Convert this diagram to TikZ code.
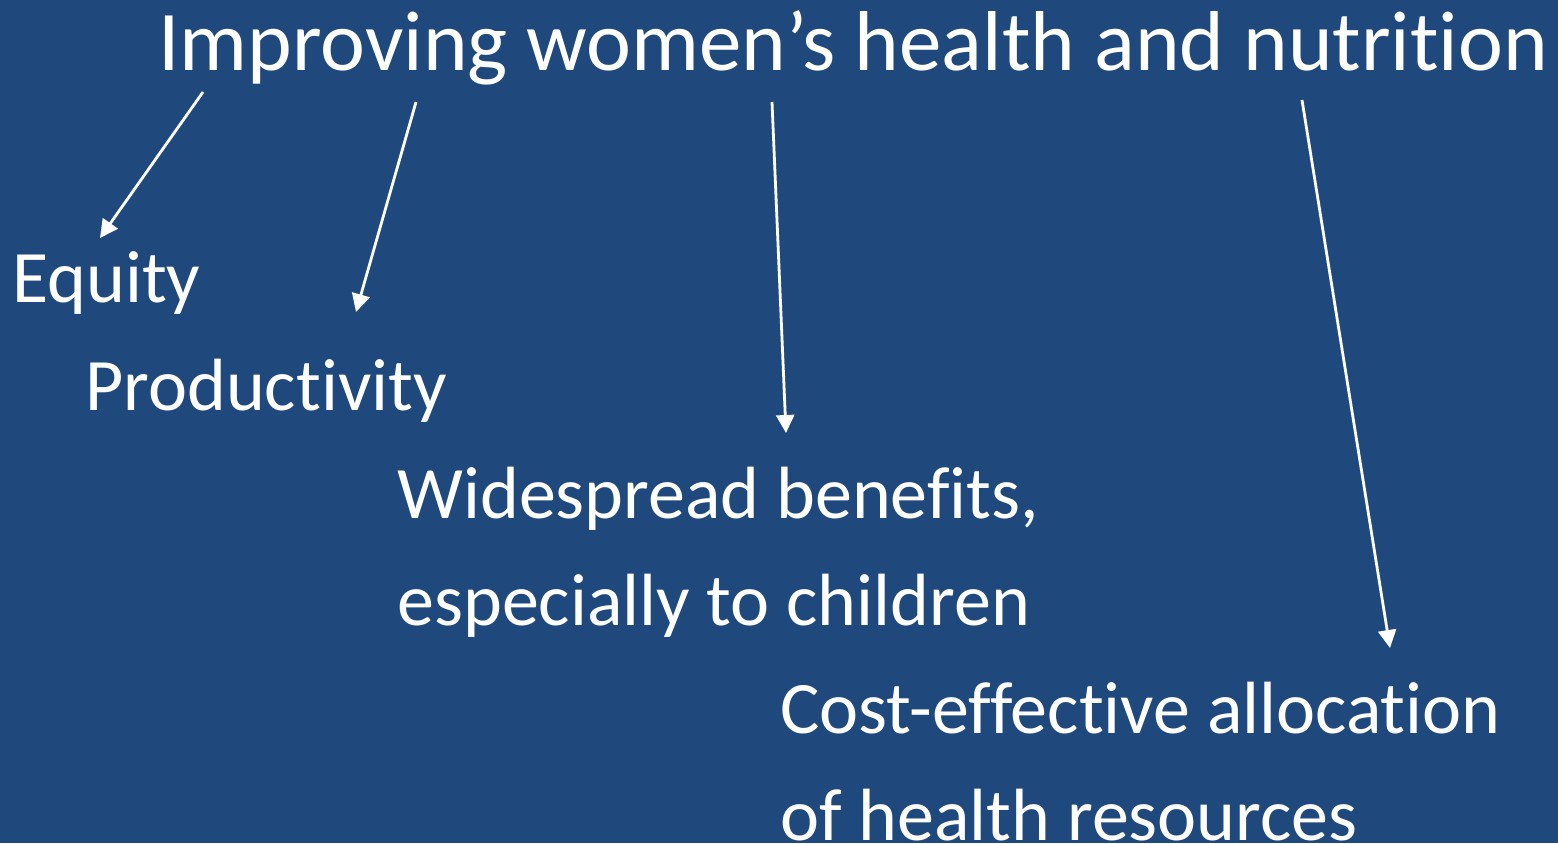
\documentclass[tikz,border=0pt]{standalone}
\usepackage{fontspec}
\setmainfont{Carlito}[Ligatures=NoCommon]
\usetikzlibrary{arrows.meta}
\definecolor{slideblue}{RGB}{31,73,125}

\begin{document}
\begin{tikzpicture}[x=0.5pt, y=-0.5pt,
		lbl/.style = {anchor = base west, inner sep = 0pt, text = white, font = \fontsize{37}{41}\selectfont},
		arr/.style = {draw = white, line width = 1.4pt, -{Triangle[width=9pt,length=9pt]}}]
				\fill[slideblue] (0,0) rectangle (1558,843);
				\useasboundingbox (0,0) rectangle (1558,843);
				
				\node (title) at (158,70)[lbl, font = \fontsize{42.5}{47}\selectfont]{Improving women’s health and nutrition};
				\node (equity) at (12,302)[lbl]{Equity};
				\node (prod) at (85,410)[lbl]{Productivity};
				\node (wide) at (397,518)[lbl]{Widespread benefits,};
				\node (child) at (397,625)[lbl]{especially to children};
				\node (cost) at (780,733)[lbl]{Cost-effective allocation};
				\node (res) at (780,840)[lbl]{of health resources};
				
				\coordinate (s1) at (203,92);
				\coordinate (e1) at (100,238);
				\coordinate (s2) at (416,102);
				\coordinate (e2) at (356,312);
				\coordinate (s3) at (772,102);
				\coordinate (e3) at (786,433);
				\coordinate (s4) at (1302,100);
				\coordinate (e4) at (1390,648);
				
				\draw[arr] (s1)--(e1);
				\draw[arr] (s2)--(e2);
				\draw[arr] (s3)--(e3);
				\draw[arr] (s4)--(e4);
			\end{tikzpicture}
\end{document}
